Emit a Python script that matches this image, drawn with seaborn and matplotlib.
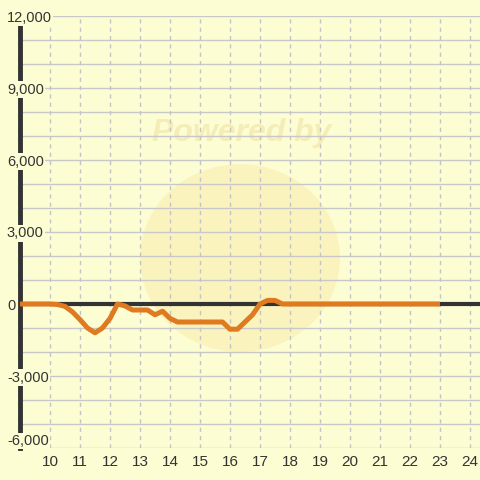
import numpy as np
import pandas as pd
import matplotlib
matplotlib.use("Agg")
import matplotlib.pyplot as plt
from matplotlib.patches import Circle
import seaborn as sns

# quarter-hour readings, 9:00 .. 23:00
hours = np.arange(9.0, 23.01, 0.25)
values = [0, 0, 0, 0, 0, -20, -100, -330, -650, -1000, -1200, -1000,
          -600, 0, -80, -250, -250, -250, -450, -300, -600, -750, -750,
          -750, -750, -750, -750, -750, -1050, -1050, -750, -450, 0, 150,
          150, 0,
          0, 0, 0, 0, 0, 0, 0, 0, 0, 0, 0, 0, 0, 0, 0, 0, 0, 0, 0, 0, 0]
y_ticks = [-6000, -3000, 0, 3000, 6000, 9000, 12000]
x_ticks = list(range(10, 25))

df = pd.DataFrame({"hour": hours, "value": values})

bg = "#FDFDD4"
sns.set_theme(style="white")
plt.rcParams["font.family"] = ["Liberation Sans", "DejaVu Sans"]

fig = plt.figure(figsize=(4.8, 4.8), dpi=100, facecolor=bg)
ax = fig.add_axes([20 / 480, 32 / 480, 460 / 480, 432 / 480])
ax.set_facecolor(bg)

# faint watermark
wm = Circle(((240 - 20) / 460, (448 - 258) / 432), 100 / 460, transform=ax.transAxes,
            facecolor="#F8EBA8", edgecolor="none", alpha=0.5, zorder=0)
ax.add_patch(wm)
ax.text((242 - 20) / 460, (448 - 133) / 432, "Powered by", transform=ax.transAxes,
        ha="center", va="center", fontsize=23, fontweight="bold", style="italic",
        color="#F4E9B0", alpha=0.8, zorder=0)

ax.set_xlim(9, 9 + 460 / 30)
ax.set_ylim(-6000, 12000)

# grid
for v in range(-6000, 12001, 1000):
    ax.axhline(v, color="#C8C8C8", lw=1, zorder=1)
for h in x_ticks:
    ax.axvline(h, color="#C4C4C4", lw=1, ls=(0, (3, 3)), zorder=1)
ax.axhline(0, color="#333333", lw=3, zorder=2)

sns.lineplot(data=df, x="hour", y="value", ax=ax, color="#E07A20", lw=3.6,
             zorder=3, solid_joinstyle="round", solid_capstyle="butt")

for s in ["top", "right", "bottom"]:
    ax.spines[s].set_visible(False)
ax.spines["left"].set_color("#333333")
ax.spines["left"].set_linewidth(3.5)
ax.spines["left"].set_zorder(2)

ax.set_xticks(x_ticks)
ax.set_xticklabels([str(t) for t in x_ticks])
ax.set_yticks(y_ticks)
ax.set_yticklabels([f"{t:,}" for t in y_ticks])
ax.tick_params(axis="x", length=0, pad=5, labelsize=11, labelcolor="#333333")
ax.tick_params(axis="y", length=0, pad=9.4, labelsize=10.5, labelcolor="#333333")
for lbl in ax.get_yticklabels():
    lbl.set_horizontalalignment("left")
    lbl.set_bbox(dict(facecolor=bg, edgecolor="none", pad=1))
ax.get_yticklabels()[0].set_verticalalignment("bottom")
ax.yaxis.set_zorder(5)
ax.set_xlabel("")
ax.set_ylabel("")

fig.savefig("out.png", dpi=100, facecolor=bg)
